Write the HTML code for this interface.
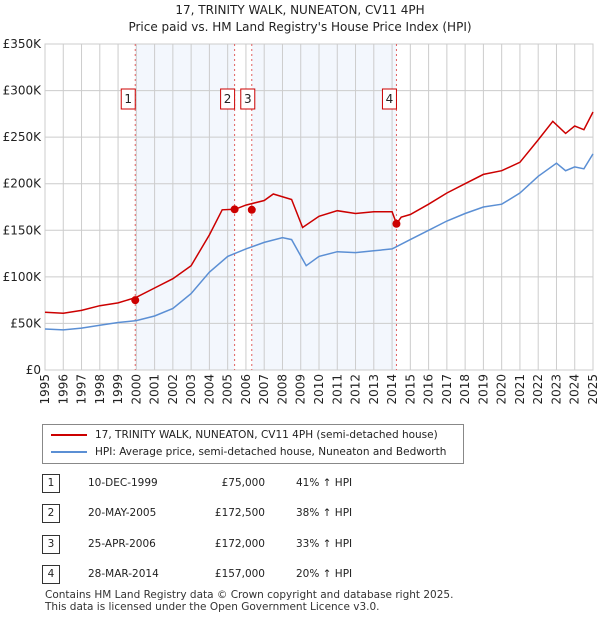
<!DOCTYPE html>
<html><head><meta charset="utf-8"><style>
body{margin:0;background:#fff;font-family:"DejaVu Sans","Liberation Sans",sans-serif;color:#222}
#wrap{position:relative;width:600px;height:620px;overflow:hidden}
.t{position:absolute;font-size:12px}
svg text{font-family:"DejaVu Sans","Liberation Sans",sans-serif}
</style></head><body><div id="wrap">
<div class="t" style="left:0;width:600px;top:2px;text-align:center;font-size:12px;line-height:17px">17, TRINITY WALK, NUNEATON, CV11 4PH<br>Price paid vs. HM Land Registry's House Price Index (HPI)</div>
<svg id="chart" width="600" height="420" style="position:absolute;left:0;top:0"></svg>
<div style="position:absolute;left:42px;top:424px;width:420px;height:38px;border:1px solid #888;font-size:10.5px">
<div style="position:absolute;left:8px;top:4px;white-space:nowrap"><span style="display:inline-block;width:36px;height:2px;background:#cc0000;vertical-align:middle;margin-right:8px"></span>17, TRINITY WALK, NUNEATON, CV11 4PH (semi-detached house)</div>
<div style="position:absolute;left:8px;top:21px;white-space:nowrap"><span style="display:inline-block;width:36px;height:2px;background:#5b8fd4;vertical-align:middle;margin-right:8px"></span>HPI: Average price, semi-detached house, Nuneaton and Bedworth</div>
</div>
<div id="table"></div>
<div class="t" style="left:45px;top:589px;font-size:10.5px;line-height:12px;color:#333;white-space:nowrap">Contains HM Land Registry data © Crown copyright and database right 2025.<br>This data is licensed under the Open Government Licence v3.0.</div>
</div>
<script>
const hpiYears=[1995,1996,1997,1998,1999,2000,2001,2002,2003,2004,2005,2006,2007,2008,2008.5,2009.3,2010,2011,2012,2013,2014,2015,2016,2017,2018,2019,2020,2021,2022,2023,2023.5,2024,2024.5,2025];
const hpiValues=[44000,43000,45000,48000,51000,53000,58000,66000,82000,105000,122000,130000,137000,142000,140000,112000,122000,127000,126000,128000,130000,140000,150000,160000,168000,175000,178000,190000,208000,222000,214000,218000,216000,232000];
const priceYears=[1995,1996,1997,1998,1999,2000,2001,2002,2003,2004,2004.7,2005.4,2006,2007,2007.5,2008.5,2009.1,2010,2011,2012,2013,2014,2014.24,2014.5,2015,2016,2017,2018,2019,2020,2021,2022,2022.8,2023.5,2024,2024.5,2025];
const priceValues=[62000,61000,64000,69000,72000,78000,88000,98000,112000,145000,172000,172500,177000,182000,189000,183000,153000,165000,171000,168000,170000,170000,157000,164000,167000,178000,190000,200000,210000,214000,223000,247000,267000,254000,262000,258000,277000];
const saleLabels=["1","2","3","4"];
const saleYears=[1999.94,2005.38,2006.32,2014.24];
const salePrices=[75000,172500,172000,157000];
const saleDates=["10-DEC-1999","20-MAY-2005","25-APR-2006","28-MAR-2014"];
const salePriceText=["£75,000","£172,500","£172,000","£157,000"];
const saleHpiText=["41% ↑ HPI","38% ↑ HPI","33% ↑ HPI","20% ↑ HPI"];
const yTicks=[0,50000,100000,150000,200000,250000,300000,350000];
const yTickLabels=["£0","£50K","£100K","£150K","£200K","£250K","£300K","£350K"];
const xTicks=[1995,1996,1997,1998,1999,2000,2001,2002,2003,2004,2005,2006,2007,2008,2009,2010,2011,2012,2013,2014,2015,2016,2017,2018,2019,2020,2021,2022,2023,2024,2025];

const L=45,R=593,T=44,B=370;
const x=v=>L+(v-1995)*(R-L)/30;
const y=v=>B-v*(B-T)/350000;
const svg=document.getElementById('chart');
const NS='http://www.w3.org/2000/svg';
function mk(tag,attrs,parent){const e=document.createElementNS(NS,tag);for(const k in attrs)e.setAttribute(k,attrs[k]);(parent||svg).appendChild(e);return e;}
for(const [a,b] of [[0,1],[2,3]]){
 const r=mk('rect',{x:x(saleYears[a]),y:T,width:x(saleYears[b])-x(saleYears[a]),height:B-T,fill:'#eef3fc',opacity:0.7});
 
 
}
xTicks.forEach(t=>{const l=mk('line',{x1:x(t),x2:x(t),y1:T,y2:B,stroke:'#cccccc'});
 
 
 const tx=mk('text',{x:0,y:0,transform:`translate(${x(t)+4},${B+4}) rotate(-90)`,'text-anchor':'end','font-size':12,fill:'#222'});
 tx.textContent=t;
 
 
});
yTicks.forEach((t,i)=>{const l=mk('line',{x1:L,x2:R,y1:y(t),y2:y(t),stroke:'#cccccc'});
 
 
 const tx=mk('text',{x:L-4,y:y(t)+4,'text-anchor':'end','font-size':12,fill:'#222'});
 tx.textContent=yTickLabels[i];
 
 
});
const fr=mk('rect',{x:L,y:T,width:R-L,height:B-T,fill:'none',stroke:'#cccccc'});


saleYears.forEach((s,i)=>{
 const l=mk('line',{x1:x(s),x2:x(s),y1:T,y2:B,stroke:'#e06060','stroke-dasharray':'2,3'});
 
 
 const g=mk('g',{});
 
 
 const off=i==1?-4:(i==2?-1:-4);
 mk('rect',{x:x(s)+off-10,y:89,width:14,height:20,fill:'#fff',stroke:'#cc0000'},g);
 const tx=mk('text',{x:x(s)+off-3,y:103,'text-anchor':'middle','font-size':12,fill:'#222'},g);tx.textContent=saleLabels[i];
});
function path(xs,vs,col,name){
 const p=mk('path',{d:xs.map((t,i)=>(i?'L':'M')+x(t).toFixed(1)+','+y(vs[i]).toFixed(1)).join(''),fill:'none',stroke:col,'stroke-width':1.5});
 
 
}
path(hpiYears,hpiValues,'#5b8fd4','hpi-line');
path(priceYears,priceValues,'#cc0000','price-line');
saleYears.forEach((s,i)=>{const c=mk('circle',{cx:x(s),cy:y(salePrices[i]),r:4,fill:'#cc0000'});
 
 
});
const tb=document.getElementById('table');
const rowY=[474,504,535,565];
saleLabels.forEach((lab,i)=>{
 const r=document.createElement('div');
 
 
 r.style.cssText=`position:absolute;left:0;top:${rowY[i]}px;width:600px;height:20px;font-size:10.5px`;
 r.innerHTML=`<span style="position:absolute;left:42px;top:0;width:16px;height:17px;border:1px solid #333;text-align:center;line-height:17px">${lab}</span><span style="position:absolute;left:88px;top:3px">${saleDates[i]}</span><span style="position:absolute;left:180px;width:85px;text-align:right;top:3px">${salePriceText[i]}</span><span style="position:absolute;left:296px;top:3px">${saleHpiText[i]}</span>`;
 tb.appendChild(r);
});
</script></body></html>
